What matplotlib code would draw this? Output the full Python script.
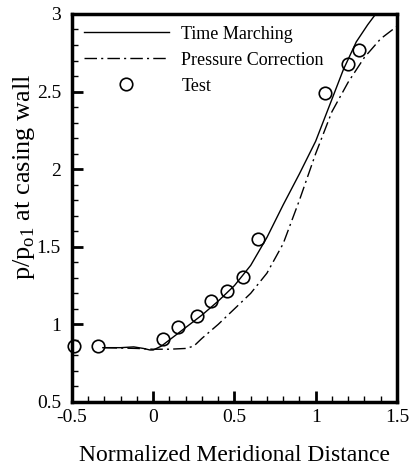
import matplotlib
matplotlib.use("Agg")
import matplotlib.pyplot as plt
from matplotlib.ticker import MultipleLocator

plt.rcParams['font.family'] = ['Liberation Serif', 'DejaVu Serif']
plt.rcParams['mathtext.fontset'] = 'custom'
plt.rcParams['mathtext.rm'] = 'Liberation Serif'

# Time Marching (solid)
tm_x = [-0.31, -0.2, -0.12, -0.06, -0.02, 0.0, 0.05, 0.1, 0.2, 0.3, 0.4, 0.5,
        0.6, 0.7, 0.8, 0.9, 1.0, 1.1, 1.17, 1.25, 1.32, 1.37]
tm_y = [0.85, 0.85, 0.855, 0.845, 0.835, 0.835, 0.86, 0.9, 0.98, 1.06, 1.15, 1.25,
        1.38, 1.56, 1.77, 1.97, 2.18, 2.45, 2.64, 2.82, 2.93, 3.0]

# Pressure Correction (dash-dot)
pc_x = [-0.3, -0.1, 0.0, 0.1, 0.2, 0.25, 0.3, 0.4, 0.5, 0.6, 0.7, 0.8, 0.9,
        1.0, 1.1, 1.2, 1.3, 1.4, 1.5]
pc_y = [0.85, 0.845, 0.84, 0.84, 0.845, 0.86, 0.91, 1.0, 1.1, 1.2, 1.33, 1.52, 1.8,
        2.1, 2.37, 2.56, 2.72, 2.84, 2.92]

# Test data (circles)
test_x = [-0.49, -0.342, 0.058, 0.154, 0.267, 0.355, 0.452, 0.55, 0.643, 1.057, 1.197, 1.266]
test_y = [0.861, 0.861, 0.904, 0.981, 1.054, 1.153, 1.215, 1.307, 1.548, 2.493, 2.676, 2.768]

fig = plt.figure(figsize=(4.1, 4.65), dpi=100)
ax = fig.add_axes([0.1756, 0.1355, 0.7924, 0.8345])

ax.plot(tm_x, tm_y, color='black', lw=1.0, label='Time Marching')
ax.plot(pc_x, pc_y, color='black', lw=1.0, linestyle=(0, (9, 3, 1.5, 3)),
        label='Pressure Correction')
ax.plot(test_x, test_y, 'o', markersize=9, markerfacecolor='none',
        markeredgecolor='black', markeredgewidth=1.2, label='Test', clip_on=False)

ax.set_xlim(-0.5, 1.5)
ax.set_ylim(0.5, 3.0)
ax.xaxis.set_minor_locator(MultipleLocator(0.1))
ax.yaxis.set_minor_locator(MultipleLocator(0.1))
ax.set_xticks([-0.5, 0, 0.5, 1, 1.5])
ax.set_xticklabels(['-0.5', '0', '0.5', '1', '1.5'])
ax.set_yticks([0.5, 1, 1.5, 2, 2.5, 3])
ax.set_yticklabels(['0.5', '1', '1.5', '2', '2.5', '3'])
ax.tick_params(which='major', direction='in', length=8, width=2, labelsize=14,
               top=False, right=False, pad=5)
ax.tick_params(axis='y', which='major', pad=8)
ax.tick_params(which='minor', direction='in', length=4, width=1,
               top=False, right=False)
for sp in ax.spines.values():
    sp.set_linewidth(2.5)

ax.set_xlabel('Normalized Meridional Distance', fontsize=17, labelpad=14)
ax.set_ylabel(r'p/p$_{\mathrm{o1}}$ at casing wall', fontsize=19)
ax.yaxis.set_label_coords(-0.108, 0.58)

ax.legend(loc='upper left', bbox_to_anchor=(0.0, 1.0), frameon=False, fontsize=13,
          handlelength=4.7, handletextpad=0.7, labelspacing=0.5, borderpad=0.45,
          borderaxespad=0.2)

fig.savefig('out.png', dpi=100)
